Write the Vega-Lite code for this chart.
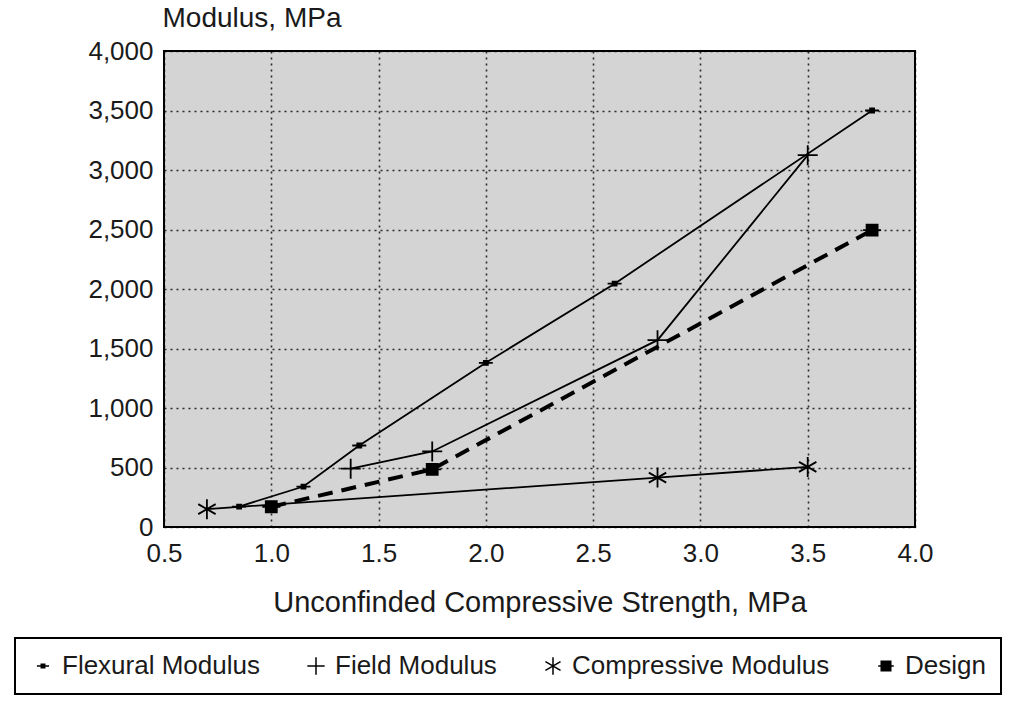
{
  "$schema": "https://vega.github.io/schema/vega-lite/v6.json",
  "autosize": "none",
  "width": 751,
  "height": 476,
  "padding": {"left": 164, "top": 51, "right": 98, "bottom": 192},
  "background": "white",
  "data": {
    "values": [
      {"series": "Flexural Modulus", "x": 0.85, "y": 172},
      {"series": "Flexural Modulus", "x": 1.15, "y": 340},
      {"series": "Flexural Modulus", "x": 1.41, "y": 685},
      {"series": "Flexural Modulus", "x": 2.0, "y": 1380},
      {"series": "Flexural Modulus", "x": 2.6, "y": 2045},
      {"series": "Flexural Modulus", "x": 3.8, "y": 3500},
      {"series": "Field Modulus", "x": 1.37, "y": 490},
      {"series": "Field Modulus", "x": 1.75, "y": 635},
      {"series": "Field Modulus", "x": 2.8, "y": 1570},
      {"series": "Field Modulus", "x": 3.5, "y": 3125},
      {"series": "Compressive Modulus", "x": 0.7, "y": 150},
      {"series": "Compressive Modulus", "x": 2.8, "y": 415},
      {"series": "Compressive Modulus", "x": 3.5, "y": 505},
      {"series": "Design", "x": 1.0, "y": 170},
      {"series": "Design", "x": 1.75, "y": 485},
      {"series": "Design", "x": 3.8, "y": 2495}
    ]
  },
  "encoding": {
    "x": {
      "field": "x", "type": "quantitative",
      "scale": {"domain": [0.5, 4.0], "nice": false, "zero": false},
      "axis": {
        "values": [0.5, 1.0, 1.5, 2.0, 2.5, 3.0, 3.5, 4.0],
        "format": ".1f",
        "title": "Unconfinded Compressive Strength, MPa",
        "titleY": 75, "titleBaseline": "middle", "titleFontSize": 29,
        "labelPadding": 13, "labelFlush": false, "labelOverlap": false
      }
    },
    "y": {
      "field": "y", "type": "quantitative",
      "scale": {"domain": [0, 4000], "nice": false},
      "axis": {
        "values": [0, 500, 1000, 1500, 2000, 2500, 3000, 3500, 4000],
        "format": ",d",
        "title": "Modulus, MPa",
        "titleAngle": 0, "titleAlign": "left", "titleBaseline": "middle",
        "titleX": -2, "titleY": -33, "titleFontSize": 28,
        "labelPadding": 11, "labelOverlap": false
      }
    }
  },
  "layer": [
    {
      "transform": [{"filter": "datum.series !== 'Design'"}],
      "mark": {"type": "line", "color": "black", "strokeWidth": 1.8},
      "encoding": {"detail": {"field": "series"}}
    },
    {
      "transform": [{"filter": "datum.series === 'Design'"}],
      "mark": {"type": "line", "color": "black", "strokeWidth": 4, "strokeDash": [15, 9]},
      "encoding": {}
    },
    {
      "mark": {"type": "point", "filled": true, "color": "black", "stroke": "black", "strokeWidth": 1.8, "opacity": 1, "size": 400},
      "encoding": {
        "shape": {
          "field": "series", "type": "nominal",
          "scale": {
            "domain": ["Flexural Modulus", "Field Modulus", "Compressive Modulus", "Design"],
            "range": [
              "M-0.7,0H0.7M-0.2,-0.2H0.2V0.2H-0.2Z",
              "M-1,0H1M0,-1V1",
              "M0,-1V1M-0.87,-0.5L0.87,0.5M-0.87,0.5L0.87,-0.5",
              "M-0.9,0H0.9M-0.55,-0.55H0.55V0.55H-0.55Z"
            ]
          },
          "legend": {
            "title": null,
            "orient": "none", "legendX": -149, "legendY": 587,
            "direction": "horizontal",
            "strokeColor": "black", "fillColor": "white",
            "padding": 15, "columnPadding": 43,
            "labelFontSize": 26, "labelColor": "#1a1a1a", "labelOffset": 6, "labelLimit": 0,
            "symbolSize": 300, "symbolOpacity": 1,
            "encode": {
              "symbols": {
                "update": {
                  "fill": {"value": "black"},
                  "stroke": {"value": "black"},
                  "strokeWidth": {"value": 1.8},
                  "opacity": {"value": 1}
                }
              }
            }
          }
        }
      }
    }
  ],
  "config": {
    "font": "Liberation Sans",
    "view": {"fill": "#d4d4d4", "stroke": "black", "strokeWidth": 2},
    "axis": {
      "domain": false, "ticks": false,
      "grid": true, "gridColor": "black", "gridDash": [2, 4], "gridWidth": 1.6, "gridOpacity": 0.8,
      "labelFont": "Liberation Sans", "labelFontSize": 26, "labelColor": "#1a1a1a",
      "titleFont": "Liberation Sans", "titleFontWeight": "normal", "titleColor": "#1a1a1a"
    },
    "legend": {"labelFont": "Liberation Sans", "strokeWidth": 2}
  }
}
